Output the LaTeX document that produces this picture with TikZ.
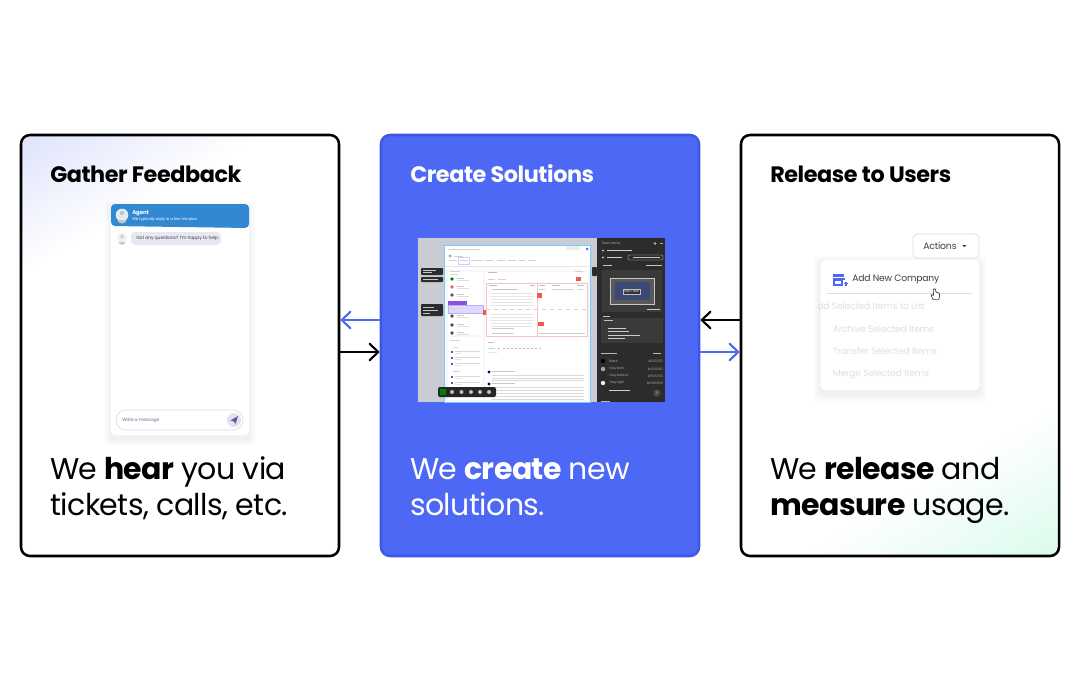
\documentclass[tikz,border=0pt]{standalone}
\usepackage{fontspec}
\setmainfont{Poppins}[LetterSpace=-2]
\usetikzlibrary{arrows.meta,calc}
\definecolor{brandblue}{HTML}{4C68F5}
\definecolor{brandedge}{HTML}{3F57E6}
\definecolor{chatblue}{HTML}{3388D2}
\definecolor{lilac}{HTML}{DFE3FC}
\definecolor{mint}{HTML}{DAFBEC}
\definecolor{faded}{HTML}{DDE0EA}
\definecolor{inkgrey}{HTML}{3C3F4A}
\definecolor{shotgrey}{HTML}{C9CCD3}
\definecolor{darkpanel}{HTML}{2C2C2C}
\definecolor{darkbox}{HTML}{3A3A3A}
\definecolor{pinkline}{HTML}{F0C2D2}
\definecolor{redtag}{HTML}{EB5B45}
\definecolor{purpletag}{HTML}{8B4FE8}
\definecolor{stateblue}{HTML}{3B4A74}
\newcommand{\softshadow}[5]{% x1,y1,x2,y2,radius
  \foreach \g in {1,...,7}{
    \fill[black,opacity=0.007,rounded corners=#5*0.75pt]
      (#1-\g,#2+4-\g) rectangle (#3+\g,#4+4+\g);}
}
\tikzset{
  card/.style={minimum width=318*0.75pt,minimum height=421*0.75pt,rounded corners=9*0.75pt,line width=1.9pt,draw=black,inner sep=0pt},
  cardtitle/.style={anchor=base west,inner sep=0pt,font=\bfseries\fontsize{16.75pt}{20pt}\selectfont},
  cardbody/.style={anchor=base west,inner sep=0pt,align=left,font=\fontsize{22.5pt}{27pt}\selectfont},
  flow/.style={line width=1.6pt,-{Straight Barb[length=6.5pt,width=12.5pt,line cap=round,line width=1.6pt]}},
  menuitem/.style={anchor=west,inner sep=0pt,text=faded,font=\fontsize{6.9pt}{9pt}\selectfont},
  chattext/.style={anchor=west,inner sep=0pt,font=\fontsize{3.4pt}{5pt}\selectfont},
  tiny/.style={anchor=west,inner sep=0pt,font=\fontsize{2.5pt}{3pt}\selectfont},
  fake/.style={line width=0.45pt,draw=#1},
  fake/.default=gray!35,
}
\begin{document}
\begin{tikzpicture}[x=0.75pt,y=-0.75pt]
\useasboundingbox (0,0) rectangle (1080,675);
\fill[white] (0,0) rectangle (1080,675);

% corner tints
\begin{scope}
  \clip[rounded corners=6.75pt] (21,135) rectangle (339,556);
  \foreach \i in {0,...,48}{
    \pgfmathsetmacro{\tint}{100-2*\i}
    \fill[lilac!\tint!white,rotate around={-60:(21,135)}] (21+2.4*\i,-265) rectangle (21+2.4*\i+3,535);}
\end{scope}
\begin{scope}
  \clip[rounded corners=6.75pt] (741,135) rectangle (1059,556);
  \foreach \i in {0,...,48}{
    \pgfmathsetmacro{\tint}{100-2*\i}
    \fill[mint!\tint!white,rotate around={120:(1059,556)}] (1059+2.6*\i,156) rectangle (1059+2.6*\i+3.2,956);}
\end{scope}

% cards
\node[card] (gather) at (180,345.5) {};
\node[card,fill=brandblue,draw=brandedge] (create) at (540,345.5) {};
\node[card] (release) at (900,345.5) {};

% titles and bodies
\node[cardtitle] (t1) at (50,182) {Gather Feedback};
\node[cardtitle,text=white] (t2) at (410,182) {Create Solutions};
\node[cardtitle] (t3) at (770,182) {Release to Users};
\node[cardbody] (b1) at (50,479) {We \textbf{hear} you via};
\node[cardbody] (b1b) at (50,515) {tickets, calls, etc.};
\node[cardbody,text=white] (b2) at (410,479) {We \textbf{create} new};
\node[cardbody,text=white] (b2b) at (410,515) {solutions.};
\node[cardbody] (b3) at (770,479) {We \textbf{release} and};
\node[cardbody] (b3b) at (770,515) {\textbf{measure} usage.};

% connectors
\coordinate (upper) at (0,320);
\coordinate (lower) at (0,352);
\draw[flow,brandblue] (create.west |- upper) -- (gather.east |- upper);
\draw[flow,black] (gather.east |- lower) -- (create.west |- lower);
\draw[flow,black] (release.west |- upper) -- (create.east |- upper);
\draw[flow,brandblue] (create.east |- lower) -- (release.west |- lower);

% ---------- chat widget
\softshadow{111}{204}{249}{435}{5}
\fill[white,rounded corners=3.5pt] (111,204) rectangle (249,435);
\fill[chatblue,rounded corners=3pt] (111,204) -- (249,204) -- (249,228) -- (111,226) -- cycle;
\fill[white!85!chatblue] (122,215) circle (6.3);
\fill[gray!45] (122,213) circle (2.3);
\fill[gray!45] (117.5,220) arc (180:360:4.5 and -3.5) -- cycle;
\node[chattext,text=white,font=\bfseries\fontsize{4.1pt}{5pt}\selectfont] (agent) at (132,213) {Agent};
\node[chattext,text=white,font=\fontsize{2.9pt}{4pt}\selectfont] (reply) at (132,219.5) {We typically reply in a few minutes};
\fill[gray!12] (122,238) circle (5);
\fill[gray!40] (122,236.5) circle (1.8);
\fill[gray!40] (118.5,242) arc (180:360:3.5 and -2.8) -- cycle;
\fill[blue!30!gray!14,rounded corners=3pt] (131,232) rectangle (221,245);
\node[chattext,text=inkgrey] (ask) at (136,238.5) {Got any questions? I'm happy to help.};
\fill[white,draw=blue!20!gray!25,line width=0.5pt,rounded corners=7.5pt] (116,410) rectangle (243,430);
\node[chattext,text=gray!85!blue] (write) at (122,420) {Write a message};
\fill[blue!30!gray!18] (234,420) circle (7);
\fill[gray!70!blue] (230.5,420.5) -- (238,416) -- (235.5,424) -- (234,421.5) -- cycle;

% ---------- screenshot
\fill[shotgrey] (418,238) rectangle (665,402);
\fill[white,draw=blue!35!cyan!55,line width=0.5pt] (444.5,245) rectangle (590,402);
\fill[gray!6] (445,270) rectangle (590,402);
\fill[white] (448,272) rectangle (483,335);
\fill[white] (448,337) rectangle (483,400);
\fill[white] (485,272) rectangle (588,400);
% nav
\fill[gray!70] (450,256) circle (1.6);
\draw[fake] (454,256) -- (463,256);
\draw[fake] (448,249) -- (480,249);
\fill[gray!15] (566,246) rectangle (580,250);
\fill[blue!60] (587,249) circle (1.5);
\foreach \a/\b in {449/457,460/468,471/482,485/493,497/505,508/516,519/525,528/536}{
  \draw[fake] (\a,260.5) -- (\b,260.5);}
\draw[blue!20,line width=0.4pt] (458,257) rectangle (469,264);
\draw[gray!20,line width=0.3pt] (445,266) -- (590,266);
% sidebar
\draw[fake] (450,271) -- (460,271);
\draw[fake] (450,274) -- (458,274);
\foreach \yy/\cc in {279/green!50!black,287/red!65,295/black!65,316/black!70,325/black!70,333/black!70}{
  \fill[\cc] (452,\yy) circle (1.9);
  \draw[fake,gray!40] (457,\yy-1.2) -- (464,\yy-1.2);
  \draw[fake,gray!25] (457,\yy+1.2) -- (469,\yy+1.2);}
\fill[purpletag] (448,300.5) rectangle (467,304.5);
\fill[blue!14!white] (448,305) rectangle (483,313);
\draw[purpletag!50,line width=0.6pt] (448,305) rectangle (483,313);
\draw[fake] (450,308) -- (463,308);
\fill[redtag] (483,310) rectangle (487,315);
% sidebar lower
\draw[fake] (450,340) -- (460,340);
\draw[fake] (453,347) -- (458,347);
\foreach \yy in {351,357,363,376,382,388}{
  \fill[blue!30!gray] (451,\yy) rectangle (453,\yy+2);
  \draw[fake,gray!30] (455,\yy) -- (480,\yy);
  \draw[fake,gray!20] (455,\yy+2) -- (462,\yy+2);}
\draw[fake] (453,371) -- (460,371);
% main header
\draw[fake,gray!50] (488,272) -- (497,272);
\draw[fake] (488,279) -- (495,279);
\draw[fake] (498,279) -- (506,279);
\draw[fake] (575,271) -- (583,271);
\fill[redtag] (576,277) rectangle (581,281);
% pink table
\draw[pinkline,line width=0.6pt] (486,283) rectangle (587,336);
\draw[pinkline,line width=0.6pt] (537,283) -- (537,336);
\draw[fake,gray!50] (489,285.5) -- (497,285.5);
\draw[fake,gray!50] (530,285.5) -- (535,285.5);
\draw[fake,gray!50] (539,285.5) -- (545,285.5);
\draw[fake,gray!50] (552,285.5) -- (560,285.5);
\draw[fake,gray!50] (577,285.5) -- (584,285.5);
\draw[fake,gray!45] (492,289) -- (518,289);
\foreach \yy in {293,296,299,302,305,314,317,320,323,326}{
  \draw[fake,gray!20] (491,\yy) -- (533,\yy);}
\draw[pinkline,dashed,line width=0.3pt] (486,309) -- (587,309);
\draw[fake,gray!40] (492,328.5) -- (514,328.5);
\draw[fake,gray!40] (492,333) -- (514,333);
\draw[fake,gray!40] (539,333) -- (585,333);
\fill[redtag] (537,293) rectangle (542,298);
\fill[redtag] (538,322) rectangle (544,326);
\draw[fake,gray!35] (539,289) -- (545,289);
\draw[fake,gray!35] (552,289) -- (574,289);
\draw[fake,gray!35] (578,289) -- (583,289);
% note editor
\draw[fake,gray!50] (488,342) -- (494,342);
\draw[fake] (488,348) -- (495,348);
\foreach \xx in {498,503,507,511,515,519,523,527,531,535,539}{\fill[gray!55] (\xx,347.5) rectangle (\xx+1.6,349);}
\draw[fake,gray!20] (488,352) -- (497,352);
\fill[blue!50!black] (489,372) circle (1.7);
\fill[blue!50!black] (489,384) circle (1.7);
\draw[fake,gray!45] (492,371) -- (515,371);
\draw[fake,gray!45] (492,383) -- (515,383);
\foreach \yy in {375,378,380,387,390,393,396,399}{
  \draw[fake,gray!30] (492,\yy) -- (584,\yy);}
% tooltips
\foreach \a/\b/\c/\d in {421/268/443/275,421/277/443/282,421/304/443/316,592/267/597/276}{
  \fill[darkpanel,rounded corners=0.6pt] (\a,\b) rectangle (\c,\d);}
\foreach \yy/\e in {270/436,272.5/432,279.5/438,307/434,310/438,313/430}{\draw[gray!45,line width=0.25pt] (423,\yy) -- (\e,\yy);}
% toolbar
\fill[black!85,rounded corners=1.6pt] (438,387) rectangle (496,397);
\fill[green!50!black] (440,389) rectangle (446,395);
\foreach \xx in {452,461.5,471,480,489}{\fill[gray!50] (\xx,392) circle (2);}
% dark panel
\fill[darkpanel] (597,238) rectangle (665,402);
\node[tiny,text=gray!70] (teamitems) at (601,243.5) {Team Items};
\fill[gray!60] (655,243.5) circle (1.3);
\draw[fake,gray!60] (660,243.5) -- (663,243.5);
\fill[gray!55] (603,250.5) circle (1.2);
\draw[fake,gray!35] (607,250.5) -- (632,250.5);
\fill[gray!55] (603,257.5) circle (1.2);
\draw[fake,gray!35] (607,257.5) -- (622,257.5);
\draw[fake,gray!45] (633,257.5) -- (660,257.5);
\draw[gray!35,line width=0.3pt,rounded corners=1pt] (628,255) rectangle (663,260);
\draw[fake,gray!45] (603,265) -- (612,265);
\draw[fake,gray!45] (646,265) -- (662,265);
\fill[darkbox] (602,270) rectangle (662,312);
\fill[black!65] (610,278) rectangle (654,304);
\draw[gray!45,line width=0.3pt] (610,278) rectangle (654,304);
\fill[stateblue] (615,282) rectangle (650,300);
\fill[black!80,draw=gray!50,line width=0.3pt] (623,289) rectangle (640,294);
\node[tiny,text=white,anchor=center,font=\fontsize{2.1pt}{3pt}\selectfont] (size) at (631.5,291.5) {1520 × 869};
\draw[fake,gray!40] (647,309) -- (660,309);
\draw[fake,gray!45] (603,316) -- (610,316);
\fill[darkbox] (601,318) rectangle (663,343);
\draw[fake,gray!50] (604,320) -- (613,320);
\foreach \yy/\e in {328/626,331.5/629,335/640,338.5/625}{\draw[fake,gray!40] (608,\yy) -- (\e,\yy);}
\draw[fake,gray!55] (601,353) -- (617,353);
\draw[fake,gray!55] (653,353) -- (661,353);
\foreach \yy/\cc/\lab/\val in {361/black/Black/{\#202020},369/gray!70/GreyDark/{\#404040},376/black!85/GreyDefault/{\#535353},383/gray!15/GreyLight/{\#D9D9D9}}{
  \fill[\cc] (603,\yy) circle (2.2);
  \node[tiny,text=gray!75] at (609,\yy) {\lab};
  \node[tiny,text=gray!75,anchor=east] at (663,\yy) {\val};
}
\draw[fake,gray!35] (609,390) -- (630,390);
\fill[black!70] (657,393) circle (3.6);
\node[tiny,text=white,anchor=center] (help) at (657,393) {?};
\draw[fake,gray!55] (601,401) -- (610,401);

% ---------- dropdown
\softshadow{820}{259}{980}{391}{5}
\fill[white,draw=gray!16,line width=0.5pt,rounded corners=3.5pt] (820,259) rectangle (980,391);
\node[draw=gray!28,fill=white,line width=0.6pt,rounded corners=3pt,minimum width=66*0.75pt,minimum height=24*0.75pt,inner sep=0pt] (actionsbtn) at (946,246) {};
\node[anchor=west,inner sep=0pt,text=inkgrey,font=\fontsize{7pt}{9pt}\selectfont] (actions) at (923,245.5) {Actions};
\fill[inkgrey] (962,245) -- (966.5,245) -- (964.25,247.2) -- cycle;
% shop icon
\fill[brandblue] (833,274) rectangle (844,276.5);
\fill[brandblue] (832.5,277.5) rectangle (845,280);
\draw[brandblue,line width=0.9pt] (834,280) rectangle (842,285);
\draw[brandblue,line width=0.8pt] (844,283.5) -- (848,283.5) (846,281.5) -- (846,285.5);
\node[anchor=west,inner sep=0pt,text=inkgrey,font=\fontsize{6.9pt}{9pt}\selectfont] (addnew) at (852,279.5) {Add New Company};
\draw[gray!25,line width=0.5pt] (827,293) -- (972,293);
\node[menuitem] (m1) at (817,306.5) {dd Selected Items to List};
\node[menuitem] (m2) at (832.5,329) {Archive Selected Items};
\node[menuitem] (m3) at (832.5,351.5) {Transfer Selected Items};
\node[menuitem] (m4) at (832.5,374) {Merge Selected Items};
% hand cursor
\draw[fill=white,draw=black!75,line width=0.5pt,line join=round,rounded corners=0.7pt]
  (933,299.5) -- (931,295) -- (932.3,294.4) -- (933.5,296.2) -- (933.3,288.8) -- (935.5,288.8) -- (935.7,292.2)
  -- (939.5,293) -- (939.5,297) -- (938.5,300) -- cycle;
\end{tikzpicture}
\end{document}
